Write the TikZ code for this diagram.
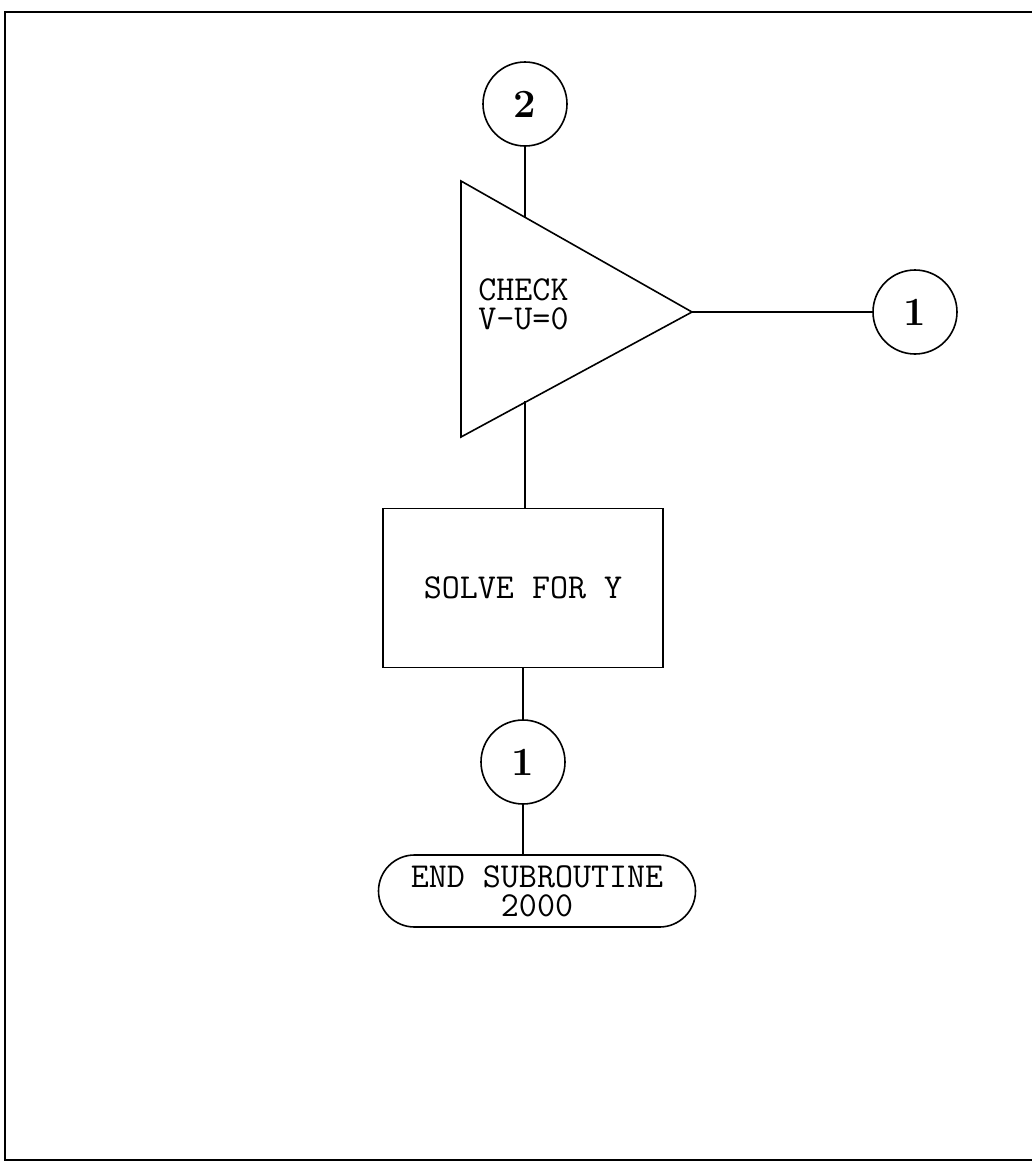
\documentclass[tikz,border=0pt]{standalone}
\usepackage{fontspec}
\usetikzlibrary{shapes.misc}
\newcommand{\tyfont}{\ttfamily\fontsize{17.5}{14.5}\selectfont}
\tikzset{
  conn/.style={circle,draw,line width=0.8pt,minimum size=42pt,inner sep=0pt,font=\fontsize{20}{20}\selectfont\bfseries},
  procbox/.style={rectangle,draw,line width=0.7pt,minimum width=140pt,minimum height=79.5pt,font=\tyfont},
  termbox/.style={rounded rectangle,draw,line width=0.8pt,minimum width=158.5pt,minimum height=36pt,inner sep=0pt,align=center,font=\tyfont},
  flow/.style={line width=1pt}
}

\begin{document}
\begin{tikzpicture}[x=0.5pt,y=-0.5pt]
  \useasboundingbox (0,0) rectangle (1032,1173);
  % frame
  \draw[line width=1pt] (1032,12) -- (5,12) -- (5,1160) -- (1032,1160);

  \node[conn] (c2) at (525,104) {2};

  % decision triangle
  \coordinate (tA) at (461,181);
  \coordinate (tB) at (461,437);
  \coordinate (tip) at (692,312);
  \draw[line width=0.8pt] (tA) -- (tip) -- (tB) -- cycle;
  \coordinate (tin) at (525,217);
  \coordinate (tout) at (525,401);
  \node[font=\tyfont,align=left,anchor=west,inner sep=1pt] (chk) at (476,304) {CHECK\\V-U=0};

  \node[conn] (c1r) at (915,312) {1};
  \node[procbox] (solve) at (523,588) {SOLVE FOR Y};
  \node[conn] (c1b) at (523,762) {1};
  \node[termbox] (endsub) at (537,891) {END SUBROUTINE\\2000};

  \draw[flow] (c2) -- (tin);
  \draw[flow] (tip) -- (c1r);
  \draw[flow] (tout) -- (tout |- solve.north);
  \draw[flow] (solve) -- (c1b);
  \draw[flow] (c1b) -- (c1b |- endsub.north);
\end{tikzpicture}
\end{document}
